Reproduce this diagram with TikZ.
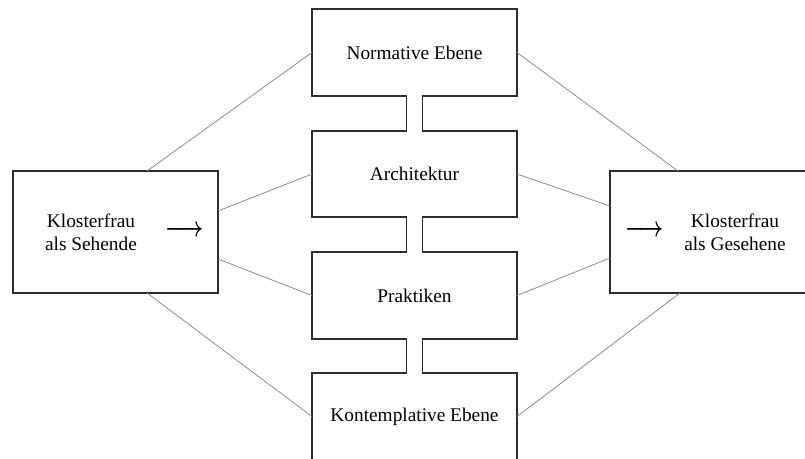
\documentclass[tikz,border=0pt]{standalone}
\usepackage{fontspec}
\setmainfont{Liberation Serif}
\usetikzlibrary{calc}
\definecolor{boxc}{gray}{0.18}
\definecolor{linkc}{gray}{0.55}
\newcommand{\bigarr}{\resizebox{29.25pt}{!}{\scalebox{1}[1.35]{\boldmath$\longrightarrow$}}}
\begin{document}
\begin{tikzpicture}[x=0.75pt,y=-0.75pt,
  box/.style={draw=boxc, line width=1.1pt, inner sep=0pt, outer sep=0pt,
    minimum width=153.75pt, align=center, font=\fontsize{14.5}{17.25}\selectfont},
  txt/.style={inner sep=0pt, outer sep=0pt, align=center, font=\fontsize{14.5}{17.25}\selectfont},
  link/.style={draw=linkc, line width=0.6pt},
  neck/.style={draw=boxc, line width=1.1pt}]
\useasboundingbox (0,0) rectangle (805,459);
\clip (0,0) rectangle (805,459);
% central column
\node[box, minimum height=65.25pt] (norm) at (414.5,52.5) {Normative Ebene};
\node[box, minimum height=64.5pt] (arch) at (414.5,174) {Architektur};
\node[box, minimum height=65.25pt] (prak) at (414.5,295.5) {Praktiken};
\node[box, minimum height=65.25pt] (kont) at (414.5,416.5) {Kontemplative Ebene};
% side boxes
\node[box, minimum height=91.5pt] (L) at (115.5,232) {};
\node[box, minimum height=91.5pt] (R) at (712.5,232) {};
\node[txt] (Ltxt) at (91,232.5) {Klosterfrau\\als Sehende};
\node[txt] (Larr) at (184.5,231) {\bigarr};
\node[txt] (Rtxt) at (735,232.5) {Klosterfrau\\als Gesehene};
\node[txt] (Rarr) at (644.5,231) {\bigarr};
% necks
\foreach \a/\b in {norm/arch,arch/prak,prak/kont}{
  \fill[white] ($(\a.south)+(-7.3,-1)$) rectangle ($(\b.north)+(7.3,1)$);
  \draw[neck] ($(\a.south)+(-8,0)$) -- ($(\b.north)+(-8,0)$);
  \draw[neck] ($(\a.south)+(8,0)$) -- ($(\b.north)+(8,0)$);
}
% links left
\draw[link] ($(L.north)+(31.5,0)$) -- (norm.west);
\draw[link] ($(L.east)+(0,-21)$) -- (arch.west);
\draw[link] ($(L.east)+(0,27)$) -- (prak.west);
\draw[link] ($(L.south)+(31.5,0)$) -- (kont.west);
% links right
\draw[link] (norm.east) -- ($(R.north)+(-34.5,0)$);
\draw[link] (arch.east) -- ($(R.west)+(0,-26)$);
\draw[link] (prak.east) -- ($(R.west)+(0,26)$);
\draw[link] (kont.east) -- ($(R.south)+(-32.5,0)$);
\end{tikzpicture}
\end{document}
